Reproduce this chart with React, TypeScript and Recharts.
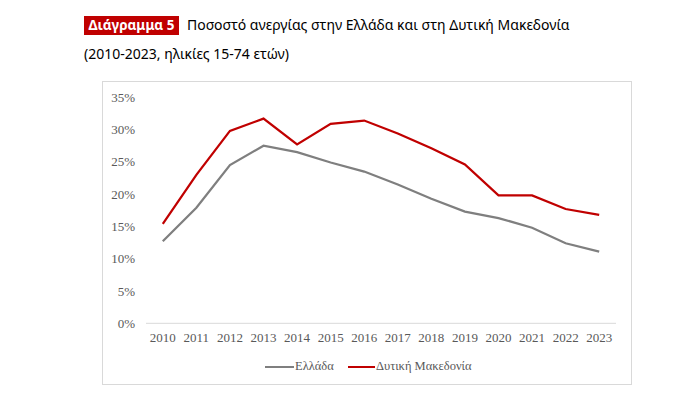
import { LineChart, Line, XAxis, YAxis } from 'recharts';

const years = ['2010', '2011', '2012', '2013', '2014', '2015', '2016', '2017', '2018', '2019', '2020', '2021', '2022', '2023'];
const greece = [12.7, 17.9, 24.5, 27.5, 26.5, 24.9, 23.5, 21.5, 19.3, 17.3, 16.3, 14.8, 12.4, 11.1];
const westMacedonia = [15.4, 23.0, 29.8, 31.7, 27.7, 30.9, 31.4, 29.4, 27.1, 24.6, 19.8, 19.8, 17.7, 16.8];
const yTicks = [0, 5, 10, 15, 20, 25, 30, 35];

const GREY = '#7f7f7f';
const RED = '#c00000';
const AXIS_TEXT = '#595959';
const SANS = '"Noto Sans", "Open Sans", sans-serif';
const SERIF = '"Liberation Serif", "DejaVu Serif", serif';

const data = years.map((year, i) => ({ year, greece: greece[i], westMacedonia: westMacedonia[i] }));

export default function App() {
  return (
    <div style={{ position: 'absolute', left: 0, top: 0, width: 700, height: 401, background: '#fff', fontFamily: SANS }}>
      {/* heading */}
      <div
        style={{
          position: 'absolute', left: 84, top: 16, width: 95, height: 19, lineHeight: '19px',
          background: RED, color: '#fff', fontWeight: 700, fontSize: 13.5, textAlign: 'center',
        }}
      >
        Διάγραμμα 5
      </div>
      <div style={{ position: 'absolute', left: 187, top: 15, fontSize: 14, lineHeight: '19px', color: '#000', whiteSpace: 'nowrap' }}>
        Ποσοστό ανεργίας στην Ελλάδα και στη Δυτική Μακεδονία
      </div>
      <div style={{ position: 'absolute', left: 84, top: 44, fontSize: 14, lineHeight: '19px', color: '#000', whiteSpace: 'nowrap' }}>
        (2010-2023, ηλικίες 15-74 ετών)
      </div>

      {/* chart frame */}
      <div style={{ position: 'absolute', left: 102, top: 81, width: 528, height: 302, border: '1px solid #d9d9d9' }} />

      <div style={{ position: 'absolute', left: 0, top: 0 }}>
        <LineChart width={700} height={401} data={data} margin={{ top: 97.3, right: 84, bottom: 47.7, left: 106 }}>
          <XAxis
            dataKey="year"
            height={30}
            padding={{ left: 16.8, right: 16.8 }}
            axisLine={{ stroke: '#d9d9d9', strokeWidth: 1 }}
            tickLine={false}
            tickSize={0}
            tickMargin={9}
            tick={{ fill: AXIS_TEXT, fontSize: 13, fontFamily: SERIF }}
            interval={0}
          />
          <YAxis
            width={40}
            domain={[0, 35]}
            ticks={yTicks}
            tickFormatter={(v: number) => `${v}%`}
            axisLine={false}
            tickLine={false}
            tickSize={0}
            tickMargin={11}
            tick={{ fill: AXIS_TEXT, fontSize: 13, fontFamily: SERIF }}
          />
          <Line type="linear" dataKey="greece" name="Ελλάδα" stroke={GREY} strokeWidth={2.25} dot={false} isAnimationActive={false} />
          <Line type="linear" dataKey="westMacedonia" name="Δυτική Μακεδονία" stroke={RED} strokeWidth={2.25} dot={false} isAnimationActive={false} />
        </LineChart>
      </div>

      {/* legend */}
      <div style={{ position: 'absolute', left: 265, top: 366, width: 29, height: 2.25, background: GREY }} />
      <div style={{ position: 'absolute', left: 295, top: 358, fontFamily: SERIF, fontSize: 12.5, lineHeight: '17px', color: AXIS_TEXT, whiteSpace: 'nowrap' }}>
        Ελλάδα
      </div>
      <div style={{ position: 'absolute', left: 348, top: 366, width: 27, height: 2.25, background: RED }} />
      <div style={{ position: 'absolute', left: 376, top: 358, fontFamily: SERIF, fontSize: 12.5, lineHeight: '17px', color: AXIS_TEXT, whiteSpace: 'nowrap' }}>
        Δυτική Μακεδονία
      </div>
    </div>
  );
}
